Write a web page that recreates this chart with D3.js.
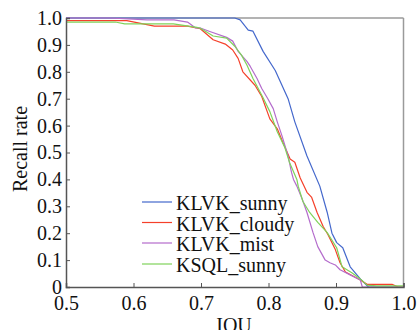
<!DOCTYPE html>
<html>
<head>
<meta charset="utf-8">
<script src="https://cdn.jsdelivr.net/npm/d3@7"></script>
</head>
<body style="margin:0">
<div id="chart"></div>
<script>
// Series: [IOU, recall rate]
const sunny = [[0.5,1.0],[0.750,1.0],[0.758,0.993],[0.770,0.955],[0.777,0.951],[0.792,0.876],[0.810,0.805],[0.829,0.700],[0.839,0.614],[0.857,0.487],[0.876,0.375],[0.887,0.277],[0.894,0.200],[0.901,0.165],[0.910,0.146],[0.921,0.075],[0.936,0.030],[0.948,0],[1.0,0]];
const cloudy = [[0.5,0.99],[0.590,0.99],[0.631,0.97],[0.680,0.97],[0.699,0.96],[0.718,0.919],[0.736,0.903],[0.747,0.881],[0.755,0.85],[0.762,0.80],[0.780,0.75],[0.790,0.708],[0.802,0.625],[0.813,0.588],[0.821,0.539],[0.832,0.476],[0.839,0.464],[0.847,0.405],[0.857,0.352],[0.864,0.333],[0.872,0.277],[0.881,0.225],[0.888,0.195],[0.899,0.139],[0.906,0.09],[0.914,0.056],[0.936,0.026],[0.946,0.01],[0.983,0.01],[0.992,0],[1.0,0]];
const mist = [[0.5,1.0],[0.565,1.0],[0.620,0.993],[0.660,0.993],[0.680,0.985],[0.692,0.963],[0.699,0.963],[0.713,0.95],[0.738,0.928],[0.747,0.914],[0.755,0.876],[0.768,0.839],[0.773,0.82],[0.783,0.775],[0.790,0.738],[0.799,0.70],[0.807,0.663],[0.813,0.614],[0.820,0.562],[0.829,0.487],[0.834,0.427],[0.837,0.40],[0.842,0.375],[0.850,0.326],[0.857,0.277],[0.866,0.202],[0.873,0.15],[0.884,0.10],[0.891,0.09],[0.899,0.082],[0.906,0.064],[0.921,0.045],[0.936,0.026],[0.939,0],[1.0,0]];
const ksqlSunny = [[0.5,0.985],[0.573,0.985],[0.587,0.978],[0.659,0.978],[0.694,0.965],[0.699,0.962],[0.718,0.933],[0.738,0.925],[0.750,0.895],[0.760,0.862],[0.768,0.825],[0.777,0.775],[0.791,0.708],[0.802,0.652],[0.813,0.577],[0.824,0.52],[0.831,0.464],[0.842,0.40],[0.844,0.375],[0.851,0.318],[0.861,0.277],[0.873,0.24],[0.887,0.202],[0.901,0.146],[0.909,0.075],[0.924,0.052],[0.936,0.03],[0.946,0.007],[0.96,0.004],[1.0,0.004]];

const seriesNames = ["KLVK_sunny", "KLVK_cloudy", "KLVK_mist", "KSQL_sunny"];
const seriesData = [sunny, cloudy, mist, ksqlSunny];
const colors = ["#4468cc", "#f5402a", "#b46ccc", "#7fd35a"];
const xTicks = [0.5, 0.6, 0.7, 0.8, 0.9, 1.0];
const yTicks = [0, 0.1, 0.2, 0.3, 0.4, 0.5, 0.6, 0.7, 0.8, 0.9, 1.0];

const width = 419;
const height = 330;
const plotLeft = 66, plotRight = 403.5, plotTop = 18, plotBottom = 287;
const fontName = '"Liberation Serif"';

const svg = d3.select("#chart")
  .append("svg")
  .attr("width", width)
  .attr("height", height);

const x = d3.scaleLinear().domain([0.5, 1.0]).range([plotLeft, plotRight]);
const y = d3.scaleLinear().domain([0, 1]).range([plotBottom, plotTop]);

// light frame on top and right
svg.append("line")
  .attr("x1", plotLeft).attr("x2", plotRight).attr("y1", plotTop).attr("y2", plotTop)
  .attr("stroke", "#9a9a9a").attr("stroke-width", 1.5);
svg.append("line")
  .attr("x1", plotRight).attr("x2", plotRight).attr("y1", plotTop).attr("y2", plotBottom)
  .attr("stroke", "#9a9a9a").attr("stroke-width", 1.5);

// lines
const line = d3.line()
  .x(d => x(d[0]))
  .y(d => y(d[1]));

seriesData.forEach((s, i) => {
  svg.append("path")
    .datum(s)
    .attr("d", line)
    .attr("fill", "none")
    .attr("stroke", colors[i])
    .attr("stroke-width", 1.2)
    .attr("stroke-linejoin", "round");
});

// axes, ticks pointing inward
const xAxis = svg.append("g")
  .attr("transform", `translate(0, ${plotBottom})`)
  .call(d3.axisBottom(x).tickValues(xTicks).tickSize(-4).tickPadding(9).tickFormat(d3.format(".1f")));
const yAxis = svg.append("g")
  .attr("transform", `translate(${plotLeft}, 0)`)
  .call(d3.axisLeft(y).tickValues(yTicks).tickSize(-4).tickPadding(4).tickFormat(d => d === 0 ? "0" : d3.format(".1f")(d)));

[xAxis, yAxis].forEach(a => {
  a.attr("font-family", null).attr("font-size", null);
  a.select(".domain").attr("stroke", "#555").attr("stroke-width", 1.5);
  a.selectAll(".tick line").attr("stroke", "#555");
  a.selectAll(".tick text")
    .style("font-family", fontName)
    .attr("font-size", 20)
    .attr("fill", "#111");
});
yAxis.selectAll(".tick text").attr("dy", "0.32em");

// axis titles
svg.append("text")
  .attr("transform", "rotate(-90)")
  .attr("x", -149)
  .attr("y", 27)
  .attr("text-anchor", "middle")
  .attr("font-size", 20)
  .attr("fill", "#111")
  .style("font-family", fontName)
  .text("Recall rate");
svg.append("text")
  .attr("x", 234)
  .attr("y", 332)
  .attr("text-anchor", "middle")
  .attr("font-size", 20)
  .attr("fill", "#111")
  .style("font-family", fontName)
  .text("IOU");

// legend
const legendY = [210, 230.5, 251, 272];
seriesNames.forEach((name, i) => {
  svg.append("line")
    .attr("x1", 142).attr("x2", 172)
    .attr("y1", legendY[i] - 8).attr("y2", legendY[i] - 8)
    .attr("stroke", colors[i])
    .attr("stroke-width", 1.2);
  svg.append("text")
    .attr("x", 176)
    .attr("y", legendY[i])
    .attr("font-size", 20)
    .attr("fill", "#111")
    .style("font-family", fontName)
    .text(name);
});
</script>
</body>
</html>
